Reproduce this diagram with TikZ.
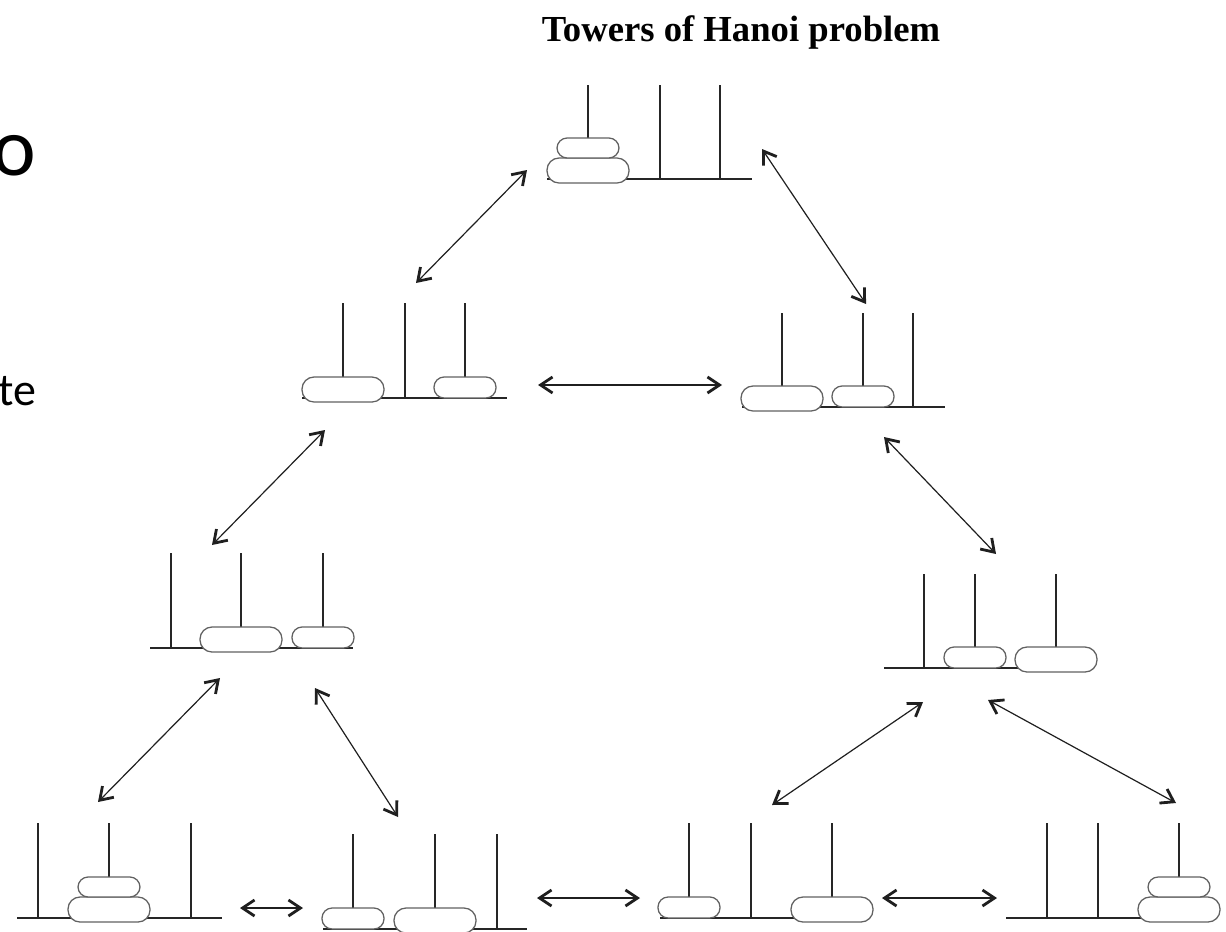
\documentclass[tikz,border=0pt]{standalone}
\usepackage{fontspec}
\setmainfont{Liberation Serif}
\newfontfamily\slidefont{Carlito}
\usetikzlibrary{arrows.meta}
\newcommand\hbigdisk[2]{\draw[disk, rounded corners=9pt] (#1-41,#2-21) rectangle (#1+41,#2+4);}
\newcommand\hsmalldisk[2]{\draw[disk] (#1-31,#2-21) rectangle (#1+31,#2);}
\newcommand\htopdisk[2]{\draw[disk] (#1-31,#2-41) rectangle (#1+31,#2-21);}
% #1 name, #2 left, #3 right, #4 base y, #5 top y, #6 #7 #8 peg x
\newcommand\hstate[8]{%
  \draw[baseln] (#2,#4) -- (#3,#4);
  \draw[peg] (#6,#5) -- (#6,#4);
  \draw[peg] (#7,#5) -- (#7,#4);
  \draw[peg] (#8,#5) -- (#8,#4);
  \coordinate (#1) at ({(#2+#3)/2},{(#4+#5)/2});}
\begin{document}
\begin{tikzpicture}[x=0.75pt,y=-0.75pt,
  peg/.style={line width=0.95pt, draw=black!85},
  baseln/.style={line width=0.95pt, draw=black!85},
  disk/.style={draw=black!62, fill=white, line width=0.95pt, rounded corners=7.6pt},
  tip/.tip={Straight Barb[length=9pt,width=12pt,line width=2.1pt]},
  conn/.style={line width=0.9pt, draw=black!88, tip-tip},
]
\useasboundingbox[fill=white] (0,0) rectangle (1226,931);

% title and cut-off slide text
\node[font=\bfseries\fontsize{27.5}{30}\selectfont, anchor=base, inner sep=0] (title) at (741,42) {Towers of Hanoi problem};
\node[font=\slidefont\fontsize{62}{62}\selectfont, anchor=base east, inner sep=0] (lefto) at (36,175) {o};
\node[font=\slidefont\fontsize{34.5}{36}\selectfont, anchor=base east, inner sep=0] (leftte) at (37,405) {te};

% states
\hstate{A}{547}{752}{179}{85}{588}{660}{720}
\hbigdisk{588}{179}\htopdisk{588}{179}

\hstate{B}{302}{507}{398}{303}{343}{405}{465}
\hbigdisk{343}{398}\hsmalldisk{465}{398}

\hstate{C}{742}{945}{407}{313}{782}{863}{913}
\hbigdisk{782}{407}\hsmalldisk{863}{407}

\hstate{D}{150}{353}{648}{553}{171}{241}{323}
\hbigdisk{241}{648}\hsmalldisk{323}{648}

\hstate{E}{884}{1090}{668}{574}{924}{975}{1056}
\hsmalldisk{975}{668}\hbigdisk{1056}{668}

\hstate{F}{17}{222}{918}{823}{38}{109}{191}
\hbigdisk{109}{918}\htopdisk{109}{918}

\hstate{G}{323}{527}{929}{834}{353}{435}{497}
\hsmalldisk{353}{929}\hbigdisk{435}{929}

\hstate{H}{660}{865}{918}{823}{689}{751}{832}
\hsmalldisk{689}{918}\hbigdisk{832}{918}

\hstate{I}{1006}{1211}{918}{823}{1047}{1098}{1179}
\hbigdisk{1179}{918}\htopdisk{1179}{918}

% connector end points
\coordinate (ab1) at (527,170); \coordinate (ab2) at (416,283);
\coordinate (ac1) at (762,149); \coordinate (ac2) at (866,304);
\coordinate (bc1) at (538,385); \coordinate (bc2) at (722,385);
\coordinate (bd1) at (325,430); \coordinate (bd2) at (212,545);
\coordinate (ce1) at (884,437); \coordinate (ce2) at (996,554);
\coordinate (df1) at (220,678); \coordinate (df2) at (98,802);
\coordinate (dg1) at (315,688); \coordinate (dg2) at (398,817);
\coordinate (eh1) at (923,702); \coordinate (eh2) at (772,805);
\coordinate (ei1) at (988,700); \coordinate (ei2) at (1176,803);
\coordinate (fg1) at (240,908); \coordinate (fg2) at (303,908);
\coordinate (gh1) at (537,898); \coordinate (gh2) at (640,898);
\coordinate (hi1) at (882,898); \coordinate (hi2) at (997,898);

\draw[conn] (ab1) -- (ab2);
\draw[conn] (ac1) -- (ac2);
\draw[conn] (bc1) -- (bc2);
\draw[conn] (bd1) -- (bd2);
\draw[conn] (ce1) -- (ce2);
\draw[conn] (df1) -- (df2);
\draw[conn] (dg1) -- (dg2);
\draw[conn] (eh1) -- (eh2);
\draw[conn] (ei1) -- (ei2);
\draw[conn] (fg1) -- (fg2);
\draw[conn] (gh1) -- (gh2);
\draw[conn] (hi1) -- (hi2);
\end{tikzpicture}
\end{document}
